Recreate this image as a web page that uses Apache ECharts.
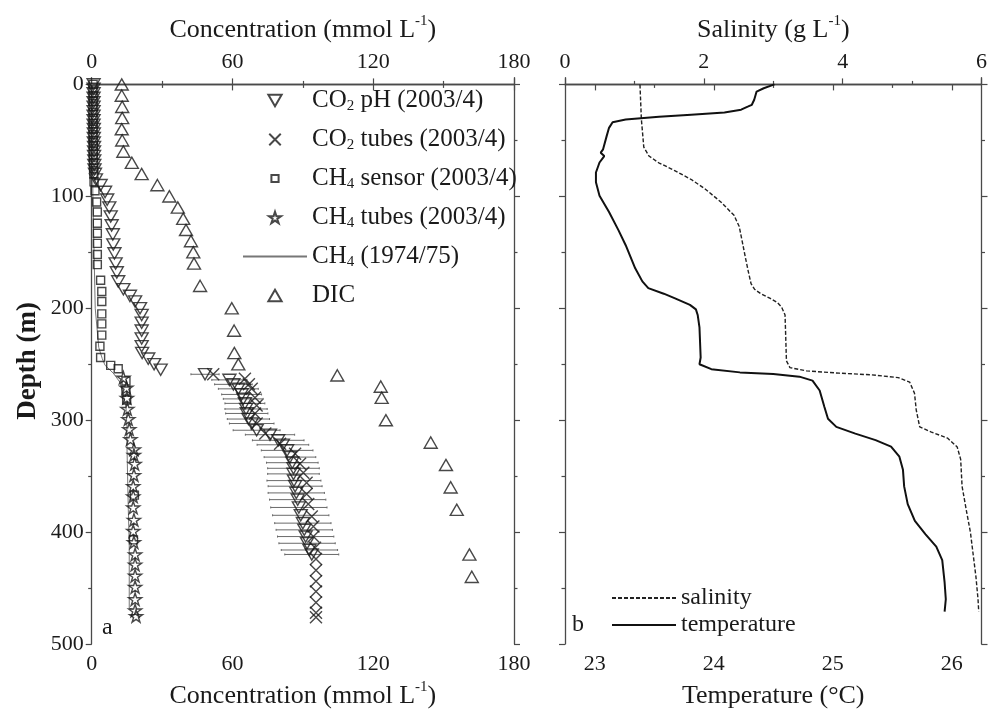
<!DOCTYPE html>
<html>
<head>
<meta charset="utf-8">
<script src="https://cdn.jsdelivr.net/npm/echarts/dist/echarts.min.js"></script>
<style>html,body{margin:0;padding:0;background:#fff}#c{width:990px;height:717px}</style>
</head>
<body>
<div id="c"></div>
<script>
// ---------- DATA ----------
const concTicks = [0, 60, 120, 180];
const depthTicks = [0, 100, 200, 300, 400, 500];
const depthMinor = [50, 150, 250, 350, 450];
const tempTicks = [23, 24, 25, 26];
const tempMinor = [23.5, 24.5, 25.5];
const salTicks = [0, 2, 4, 6];

const dicDepth = [0,10,20,30,40,50,60,70,80,90,100,110,120,130,140,150,160,180,200,220,240,250,260,270,280,300,320,340,360,380,420,440];
const dicVal   = [12.8,12.8,13.0,13.0,12.8,13.0,13.5,17.1,21.3,28.0,33.1,36.7,39.0,40.2,42.3,43.3,43.6,46.2,59.7,60.7,60.8,62.5,104.7,123.2,123.6,125.4,144.5,151.0,153.0,155.6,161.0,162.0];

const co2phDepth = [0,4,8,12,16,20,24,28,32,36,40,44,48,52,56,60,64,68,72,76,80,
  85,90,96,103,110,118,126,134,143,151,160,168,176,183,189,194,200,206,213,220,227,234,240,245,250,255,
  259,264,268,272,277,281,285,290,294,299,303,309,313,318,322,327,333,338,343,348,354,359,365,371,378,385,392,398,404,410,416,420];
const co2phVal = [0.8,0.8,0.8,0.8,0.8,0.8,0.8,0.8,0.8,0.8,0.9,0.9,0.9,0.9,1.0,1.0,1.0,1.1,1.1,1.2,1.4,
  1.8,3.8,5.7,6.6,7.5,8.1,8.5,9.0,9.2,9.7,10.2,10.7,11.3,13.5,16.3,18.5,20.6,21.3,21.3,21.3,21.3,21.3,21.5,24.1,26.6,29.4,
  48.3,58.7,60.4,62.5,63.9,64.6,65.3,65.8,66.1,66.8,68.2,70.3,76.0,79.5,81.5,83.3,84.5,85.5,86.0,86.0,86.2,86.7,87.2,87.8,88.3,89.1,90.0,90.6,91.2,91.8,92.8,93.8];
const co2phErr = [0,0,0,0,0,0,0,0,0,0,0,0,0,0,0,0,0,0,0,0,0,
  0,0,0,0,0,0,0,0,0,0,0,0,0,0,0,0,0,0,0,0,0,0,0,0,0,0,
  6,7.5,8,8.5,8.5,8.5,8.5,9,9,9,9.5,10,10.5,11,11,11,11,11,11,11,11.5,11.5,12,12,12,12,12,12,12,12,12,11.5];

const co2tubDepth = [259,263,268,272,280,287,294,303,312,321,330,339,347,356,366,375,386,395,404,414,424,434,444,453,463,472,476];
const co2tubVal   = [51.8,65.3,67.0,68.2,69.6,70.3,69.6,70.3,74.0,80.3,86.7,88.8,90.2,91.6,91.6,92.3,93.8,94.5,94.5,95.2,95.6,95.6,95.6,95.6,95.6,95.6,95.6];

const ch4senDepth = [0,5,10,15,20,25,30,35,40,45,50,55,60,65,70,75,80,87,95,105,114,124,133,142,152,161,175,185,194,205,214,224,234,244,251,254,265,274,282,367,407];
const ch4senVal   = [0.6,0.6,0.6,0.6,0.6,0.6,0.6,0.6,0.6,0.6,0.7,0.7,0.7,0.7,0.8,0.8,0.9,1.0,1.4,2.1,2.4,2.4,2.4,2.4,2.4,2.4,3.8,4.3,4.3,4.3,4.3,4.3,3.5,3.8,8.1,11.3,14.6,14.6,14.9,18.2,17.8];

const ch4tubDepth = [262,271,280,290,299,308,317,326,331,339,349,359,368,378,389,399,409,420,429,439,449,460,470,475];
const ch4tubVal   = [13.5,14.8,15.0,15.2,15.6,16.0,16.5,18.0,18.0,18.3,18.0,17.7,17.7,17.7,18.0,17.7,18.0,18.5,18.5,18.5,18.5,18.5,18.5,18.9];

const ch4oldDepth = [0,100,200,235,245,251,258,266,274,288,306,320,350,380,410,440,468,469];
const ch4oldVal   = [0.3,0.5,1.5,3.0,4.5,5.7,9.2,12.0,13.1,14.6,15.0,15.0,15.3,15.6,16.0,16.0,16.0,17.5];

const salDepth = [0,31,56,64,70,77,85,93,105,117,127,141,155,167,178,183,187,191,195,199,206,226,247,253,256,258,259.5,262,266,276,291,306,310.5,316,324,335,359,380,400,420,440,460,471];
const salVal   = [1.08,1.10,1.135,1.21,1.35,1.58,1.82,2.01,2.245,2.435,2.51,2.555,2.6,2.64,2.68,2.73,2.82,2.95,3.06,3.12,3.17,3.18,3.19,3.24,3.48,3.95,4.42,4.80,4.965,5.035,5.06,5.11,5.27,5.51,5.65,5.70,5.72,5.78,5.84,5.88,5.92,5.95,5.96];

const tempDepth = [0,3.4,6.4,13.7,18.2,19.7,22.6,25,27,29,31.4,33.8,38.8,46.2,58,61,64,69.8,78.7,87.5,99.4,114,130.4,143.7,164.3,176,182,187,191,197,201,206,217,244,250,254.4,257.3,258.8,261.1,264.7,273.5,288.3,298.7,306,312,317.8,323.7,332.6,344.4,359.2,375,390,402,413,425,445,460,471];
const tempVal   = [24.51,24.42,24.36,24.34,24.32,24.29,24.23,24.09,23.81,23.54,23.26,23.15,23.12,23.10,23.07,23.05,23.08,23.04,23.01,23.01,23.04,23.12,23.2,23.26,23.34,23.40,23.45,23.58,23.67,23.80,23.85,23.865,23.88,23.89,23.88,23.98,24.22,24.5,24.72,24.83,24.89,24.93,24.96,25.03,25.19,25.36,25.49,25.56,25.59,25.60,25.63,25.69,25.78,25.87,25.92,25.94,25.95,25.94];

// ---------- CHART ----------
const FONT = 'Liberation Serif';
const INK = '#1a1a1a';
const AX = '#4a4a4a';
const CLEAR = 'rgba(255,255,255,0)';
const pairs = (v, d) => v.map((x, i) => [x, d[i]]);
const errData = [];
co2phVal.forEach((v, i) => { if (co2phErr[i] > 0) errData.push([v - co2phErr[i], v + co2phErr[i], co2phDepth[i]]); });

const STAR = 'path://M50,0 L61,35 L98,35 L68,57 L79,91 L50,70 L21,91 L32,57 L2,35 L39,35 Z';
const XMARK = 'path://M0,0 L10,10 M10,0 L0,10';
const TRI_UP = 'path://M5,0 L10,8.66 L0,8.66 Z';
const TRI_DN = 'path://M0,0 L10,0 L5,8.66 Z';
const SQUARE = 'path://M-3,-3 M13,13 M0,0 L10,0 L10,10 L0,10 Z';
const hollow = { color: CLEAR, borderColor: INK, borderWidth: 1.4 };
const noMark = { color: CLEAR, borderColor: CLEAR, borderWidth: 0 };

const labelStyle = { fontFamily: FONT, fontSize: 22, color: INK };
const nameStyle = { fontFamily: FONT, fontSize: 26, color: INK, lineHeight: 32,
  rich: { sup: { fontFamily: FONT, fontSize: 15, color: INK, lineHeight: 18, verticalAlign: 'top' } } };
const line = { show: true, lineStyle: { color: AX, width: 1.3 } };

function yAx(grid, pos, vals, len, showLine, extra) {
  return Object.assign({
    type: 'value', gridIndex: grid, position: pos, inverse: true, min: -6, max: 500,
    axisLine: showLine ? line : { show: false },
    axisTick: { show: true, length: len, customValues: vals, lineStyle: { color: AX, width: 1.2 } },
    axisLabel: { show: false },
    splitLine: { show: false }
  }, extra || {});
}

const GRID_TOP = 77.7, GRID_H = 571.3;

const option = {
  animation: false,
  backgroundColor: '#fff',
  grid: [
    { left: 91.7, top: GRID_TOP, width: 422.3, height: GRID_H },
    { left: 565, top: GRID_TOP, width: 423, height: GRID_H }
  ],
  xAxis: [
    { type: 'value', gridIndex: 0, position: 'bottom', min: 0, max: 180, interval: 60,
      axisLine: line, axisTick: { length: 6, lineStyle: { color: AX, width: 1.2 } },
      minorTick: { show: true, splitNumber: 2, length: 3.5, lineStyle: { color: AX, width: 1.2 } },
      axisLabel: Object.assign({ margin: 9 }, labelStyle), splitLine: { show: false },
      name: 'Concentration (mmol L{sup|-1})', nameLocation: 'middle', nameGap: 36, nameTextStyle: nameStyle },
    { type: 'value', gridIndex: 0, position: 'top', min: 0, max: 180, interval: 60,
      axisLine: line, axisTick: { length: 6, lineStyle: { color: AX, width: 1.2 } },
      minorTick: { show: true, splitNumber: 2, length: 3.5, lineStyle: { color: AX, width: 1.2 } },
      axisLabel: Object.assign({ margin: 4 }, labelStyle), splitLine: { show: false },
      name: 'Concentration (mmol L{sup|-1})', nameLocation: 'middle', nameGap: 32, nameTextStyle: nameStyle },
    { type: 'value', gridIndex: 1, position: 'bottom', min: 22.75, max: 26.25,
      axisLine: line, axisTick: { length: 6, customValues: tempTicks, lineStyle: { color: AX, width: 1.2 } },
      axisLabel: Object.assign({ margin: 9, customValues: tempTicks }, labelStyle), splitLine: { show: false },
      name: 'Temperature (°C)', nameLocation: 'middle', nameGap: 36, nameTextStyle: nameStyle },
    { type: 'value', gridIndex: 1, position: 'bottom', min: 22.75, max: 26.25,
      axisLine: { show: false }, axisTick: { length: 3.5, customValues: tempMinor, lineStyle: { color: AX, width: 1.2 } },
      axisLabel: { show: false }, splitLine: { show: false } },
    { type: 'value', gridIndex: 1, position: 'top', min: 0, max: 6, interval: 2,
      axisLine: line, axisTick: { length: 6, lineStyle: { color: AX, width: 1.2 } },
      minorTick: { show: true, splitNumber: 2, length: 3.5, lineStyle: { color: AX, width: 1.2 } },
      axisLabel: Object.assign({ margin: 4 }, labelStyle), splitLine: { show: false },
      name: 'Salinity (g L{sup|-1})', nameLocation: 'middle', nameGap: 32, nameTextStyle: nameStyle }
  ],
  yAxis: [
    yAx(0, 'left', depthTicks, 6, true, {
      axisLabel: Object.assign({ show: true, margin: 8, customValues: depthTicks }, labelStyle),
      name: 'Depth (m)', nameLocation: 'middle', nameGap: 50,
      nameTextStyle: { fontFamily: FONT, fontSize: 27, fontWeight: 'bold', color: INK } }),
    yAx(0, 'left', depthMinor, 3.5, false),
    yAx(0, 'right', depthTicks, 6, true),
    yAx(0, 'right', depthMinor, 3.5, false),
    yAx(1, 'left', depthTicks, 6, true),
    yAx(1, 'left', depthMinor, 3.5, false),
    yAx(1, 'right', depthTicks, 6, true),
    yAx(1, 'right', depthMinor, 3.5, false)
  ],
  legend: [
    { orient: 'vertical', left: 237, top: 82.5, itemWidth: 64, itemHeight: 11.5, itemGap: 13,
      selectedMode: false,
      data: ['CO2 pH (2003/4)', 'CO2 tubes (2003/4)', 'CH4 sensor (2003/4)', 'CH4 tubes (2003/4)', 'CH4 (1974/75)', 'DIC'],
      formatter: function (n) { return n.replace(/(CO|CH)(\d)/, '$1{sub|$2}'); },
      textStyle: { fontFamily: FONT, fontSize: 25, color: INK, lineHeight: 26,
        rich: { sub: { fontFamily: FONT, fontSize: 15, color: INK, lineHeight: 16, verticalAlign: 'bottom' } } } },
    { orient: 'vertical', left: 606, top: 580, itemWidth: 64, itemHeight: 13, itemGap: 1,
      selectedMode: false,
      data: ['salinity', 'temperature'],
      textStyle: { fontFamily: FONT, fontSize: 24, color: INK, lineHeight: 26 } }
  ],
  graphic: [
    { type: 'text', left: 102, top: 616, style: { text: 'a', font: '24px "Liberation Serif"', fill: INK } },
    { type: 'text', left: 572, top: 613, style: { text: 'b', font: '24px "Liberation Serif"', fill: INK } }
  ],
  series: [
    { name: 'CH4 (1974/75)', type: 'line', xAxisIndex: 0, yAxisIndex: 0, symbol: 'none', showSymbol: false,
      data: pairs(ch4oldVal, ch4oldDepth), lineStyle: { color: '#777', width: 1 }, itemStyle: noMark, z: 1 },
    { name: 'errbars', type: 'custom', xAxisIndex: 0, yAxisIndex: 0, data: errData, z: 1,
      encode: { x: [0, 1], y: 2 },
      renderItem: function (params, api) {
        const a = api.coord([api.value(0), api.value(2)]);
        const b = api.coord([api.value(1), api.value(2)]);
        return { type: 'group', children: [
          { type: 'line', shape: { x1: a[0], y1: a[1], x2: b[0], y2: b[1] }, style: { stroke: '#6a6a6a', lineWidth: 1 } },
          { type: 'line', shape: { x1: a[0], y1: a[1] - 1, x2: a[0], y2: a[1] + 1 }, style: { stroke: '#6a6a6a', lineWidth: 1 } },
          { type: 'line', shape: { x1: b[0], y1: b[1] - 1, x2: b[0], y2: b[1] + 1 }, style: { stroke: '#6a6a6a', lineWidth: 1 } }
        ] };
      } },
    { name: 'DIC', type: 'scatter', xAxisIndex: 0, yAxisIndex: 0, symbol: TRI_UP, symbolSize: 13,
      symbolKeepAspect: true, data: pairs(dicVal, dicDepth), itemStyle: hollow, z: 3 },
    { name: 'CH4 sensor (2003/4)', type: 'scatter', xAxisIndex: 0, yAxisIndex: 0, symbol: SQUARE, symbolSize: 12.8,
      symbolKeepAspect: true, data: pairs(ch4senVal, ch4senDepth), itemStyle: hollow, z: 3 },
    { name: 'CH4 tubes (2003/4)', type: 'scatter', xAxisIndex: 0, yAxisIndex: 0, symbol: STAR, symbolSize: 13,
      symbolKeepAspect: true, data: pairs(ch4tubVal, ch4tubDepth), itemStyle: hollow, z: 3 },
    { name: 'CO2 pH (2003/4)', type: 'scatter', xAxisIndex: 0, yAxisIndex: 0, symbol: TRI_DN,
      symbolSize: 13, symbolKeepAspect: true, data: pairs(co2phVal, co2phDepth), itemStyle: hollow, z: 3 },
    { name: 'CO2 tubes (2003/4)', type: 'scatter', xAxisIndex: 0, yAxisIndex: 0, symbol: XMARK, symbolSize: 12,
      symbolKeepAspect: true, data: pairs(co2tubVal, co2tubDepth), itemStyle: hollow, z: 3 },
    { name: 'salinity', type: 'line', xAxisIndex: 4, yAxisIndex: 4, symbol: 'none', showSymbol: false,
      data: pairs(salVal, salDepth), lineStyle: { color: '#222', width: 1.4, type: [4, 2] }, itemStyle: noMark },
    { name: 'temperature', type: 'line', xAxisIndex: 2, yAxisIndex: 4, symbol: 'none', showSymbol: false,
      data: pairs(tempVal, tempDepth), lineStyle: { color: '#111', width: 2 }, itemStyle: noMark }
  ]
};

const chart = echarts.init(document.getElementById('c'), null, { renderer: 'canvas' });
chart.setOption(option);
</script>
</body>
</html>
